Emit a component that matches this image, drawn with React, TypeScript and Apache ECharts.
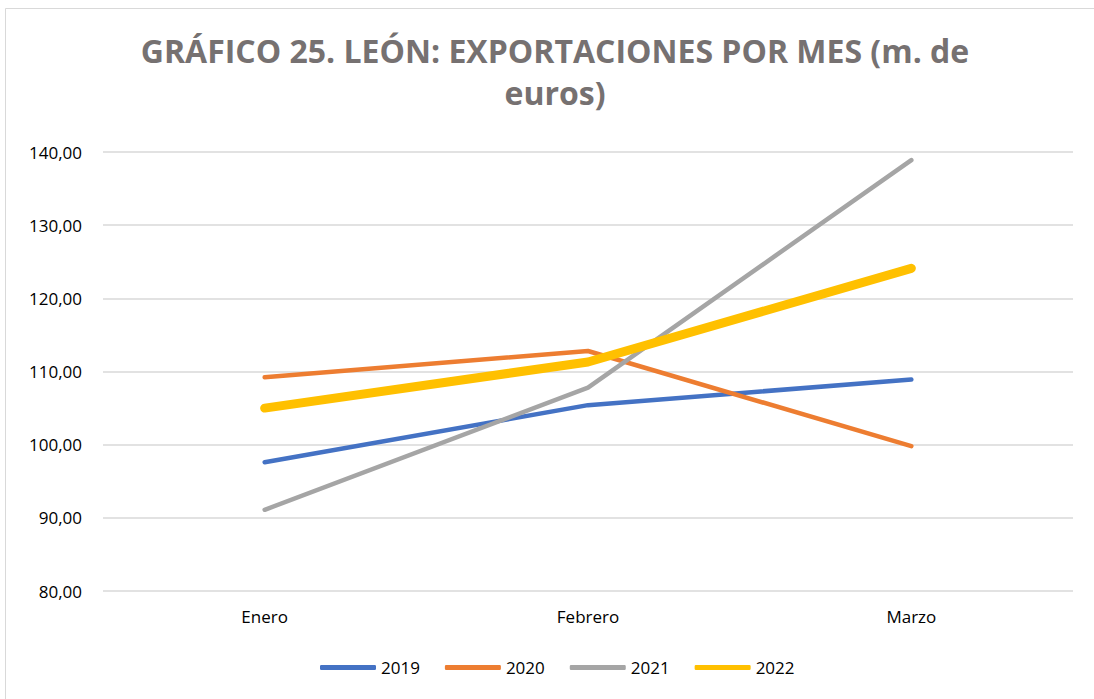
import React, { useEffect, useRef } from "react";
import * as echarts from "echarts";

const categories = ["Enero", "Febrero", "Marzo"];
const seriesNames = ["2019", "2020", "2021", "2022"];
const values2019 = [97.6, 105.4, 108.9];
const values2020 = [109.2, 112.8, 99.8];
const values2021 = [91.1, 107.8, 138.9];
const values2022 = [105.0, 111.3, 124.1];
const colors = ["#4472C4", "#ED7D31", "#A5A5A5", "#FFC000"];
const lineWidths = [4.5, 4.5, 4.5, 9];
const titleText = "GRÁFICO 25. LEÓN: EXPORTACIONES POR MES (m. de\neuros)";

export default function App() {
  const ref = useRef<HTMLDivElement>(null);
  useEffect(() => {
    document.body.style.margin = "0";
    const chart = echarts.init(ref.current!, null, { renderer: "svg" });
    const data = [values2019, values2020, values2021, values2022];
    chart.setOption({
      animation: false,
      backgroundColor: "#ffffff",
      textStyle: { fontFamily: "Open Sans" },
      title: {
        text: titleText,
        left: 550,
        top: 24,
        textAlign: "center",
        textStyle: {
          fontFamily: "Open Sans",
          fontWeight: "bold",
          fontSize: 32,
          color: "#767171",
          lineHeight: 42,
        },
      },
      graphic: [
        {
          type: "rect",
          shape: { x: 5.5, y: 8.5, width: 1200, height: 800 },
          style: { fill: "none", stroke: "#d9d9d9", lineWidth: 1 },
          silent: true,
        },
      ],
      legend: {
        top: 654,
        left: 315,
        itemWidth: 56,
        itemHeight: 5,
        itemGap: 25,
        icon: "roundRect",
        textStyle: { fontSize: 17, color: "#000000", fontFamily: "Open Sans" },
        data: seriesNames,
      },
      grid: { left: 103, right: 21, top: 152, bottom: 108 },
      xAxis: {
        type: "category",
        data: categories,
        boundaryGap: true,
        axisLine: { show: false },
        axisTick: { show: false },
        axisLabel: { fontSize: 17, color: "#000000", margin: 17 },
      },
      yAxis: {
        type: "value",
        min: 80,
        max: 140,
        interval: 10,
        axisLine: { show: false },
        axisTick: { show: false },
        splitLine: { lineStyle: { color: "#d9d9d9", width: 1.5 } },
        axisLabel: {
          fontSize: 17,
          color: "#000000",
          margin: 21,
          formatter: (v: number) => v.toFixed(2).replace(".", ","),
        },
      },
      series: seriesNames.map((name, i) => ({
        name,
        type: "line",
        data: data[i],
        symbol: "none",
        color: colors[i],
        lineStyle: { color: colors[i], width: lineWidths[i], cap: "round", join: "round" },
      })),
    });
    return () => chart.dispose();
  }, []);
  return <div ref={ref} style={{ width: 1094, height: 699 }} />;
}
